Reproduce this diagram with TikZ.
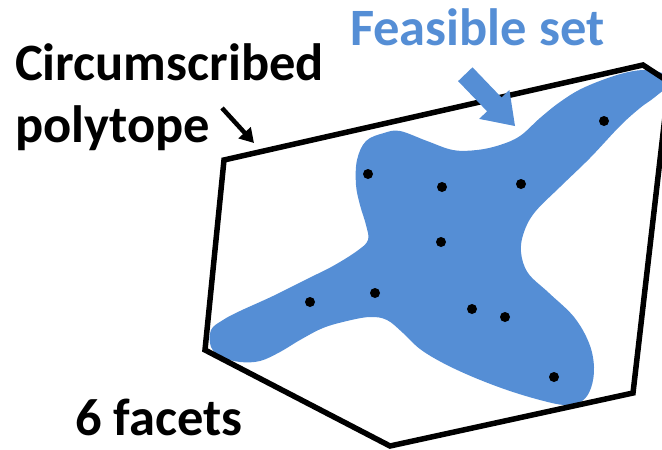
\documentclass[tikz,border=0pt]{standalone}
\usepackage{fontspec}
\setmainfont{Carlito}
\usetikzlibrary{arrows.meta}

\definecolor{feasblue}{RGB}{85,142,213}

\tikzset{
  sample/.style={circle, fill=black, inner sep=0pt, minimum size=10pt},
  lbl/.style={font=\bfseries\fontsize{52.5}{60}\selectfont, inner sep=0pt, anchor=base west},
}

\begin{document}
\begin{tikzpicture}[x=1pt, y=-1pt]
  \useasboundingbox (0,0) rectangle (662,450);

  \begin{scope}
    \clip (0,0) rectangle (662,450);
    % feasible region
    \fill[feasblue] plot[smooth cycle, tension=0.6] coordinates {
      (384,133) (400,131) (427,141) (453,150) (477,150) (500,145) (520,136)
      (540,118) (560,102) (583,88) (617,75) (643,70) (662,73) (671,82)
      (655,97) (640,108) (620,126) (590,158) (560,187) (535,212) (524,232)
      (521,252) (528,273) (549,293) (574,317) (589,343) (594,367) (591,388)
      (582,401) (565,405) (540,400) (507,390) (473,377) (443,363) (420,349)
      (403,333) (387,320) (370,317) (347,321) (323,328) (300,340) (280,352)
      (260,361) (240,362) (222,357) (211,347) (211,330) (223,320) (240,311)
      (273,296) (307,279) (333,266) (357,251) (368,240) (366,225) (360,205)
      (356,185) (357,160) (366,141)};
    % outer polytope, six facets
    \draw[line width=5.5pt, line join=miter]
      (224,160) -- (643,65) -- (669,82) -- (633,393) -- (390,446) -- (205,350) -- cycle;
  \end{scope}

  % sample points
  \foreach \p [count=\i] in {(604,121),(368,174),(442,187),(521,184),(441,242),
                             (310,302),(375,293),(472,309),(505,317),(554,377)}
    \node[sample] (s\i) at \p {};

  % labels
  \node[lbl] (circ) at (15,80) {Circumscribed};
  \node[lbl] (poly) at (15,142) {polytope};
  \node[lbl, text=feasblue] (feas) at (350,45) {Feasible set};
  \node[lbl] (facets) at (75,435) {6 facets};

  % pointer to the polytope
  \coordinate (ptail) at (222,108);
  \coordinate (ptip) at (254,143);
  \draw[line width=4.5pt, -{Triangle[length=14pt, width=16pt]}] (ptail) -- (ptip);

  % block arrow to the feasible set
  \fill[feasblue] (472.5,67.3) -- (501.5,97.5) -- (509.4,89.9) -- (515,126)
    -- (479.2,118.9) -- (487.1,111.3) -- (458.1,81.1) -- cycle;
\end{tikzpicture}
\end{document}
